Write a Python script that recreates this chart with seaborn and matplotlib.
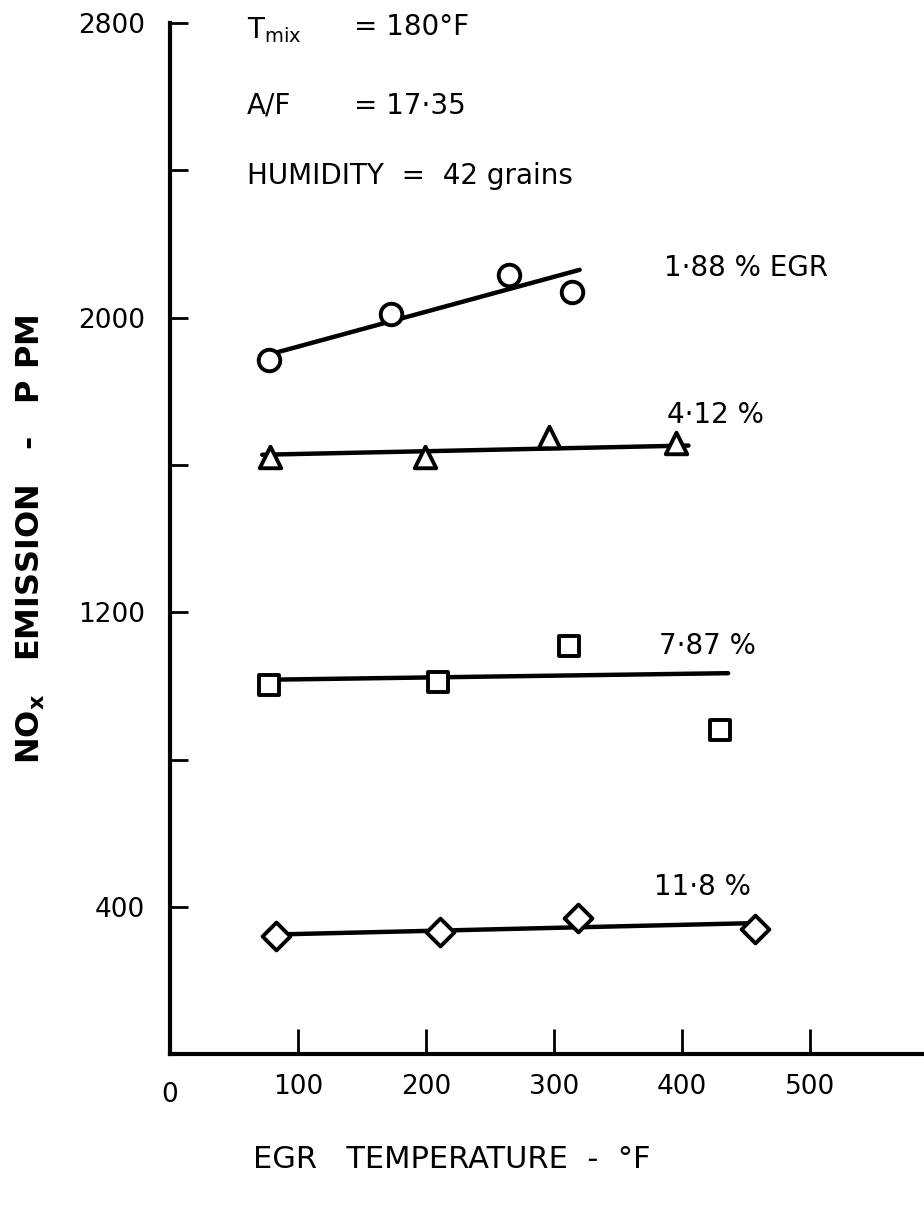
import matplotlib
matplotlib.use("Agg")
import matplotlib.pyplot as plt
import seaborn as sns
import pandas as pd

# ---- data ----
series_names = ["1·88 % EGR", "4·12 %", "7·87 %", "11·8 %"]
markers = ["o", "^", "s", "D"]

egr_t_188 = [77, 173, 265, 314]
nox_188 = [1886, 2011, 2116, 2070]
egr_t_412 = [78, 199, 296, 395]
nox_412 = [1621, 1621, 1675, 1661]
egr_t_787 = [77, 209, 312, 430]
nox_787 = [1002, 1010, 1108, 880]
egr_t_118 = [83, 211, 319, 457]
nox_118 = [321, 332, 370, 340]

# fitted lines (end points as drawn)
fit_t_188 = [72, 320]
fit_nox_188 = [1895, 2130]
fit_t_412 = [72, 405]
fit_nox_412 = [1628, 1653]
fit_t_787 = [72, 436]
fit_nox_787 = [1017, 1035]
fit_t_118 = [75, 462]
fit_nox_118 = [325, 357]

y_major = [400, 1200, 2000, 2800]
y_minor = [800, 1600, 2400]
x_ticks = [100, 200, 300, 400, 500]

# ---- build frames ----
pts = pd.DataFrame({
    "t": egr_t_188 + egr_t_412 + egr_t_787 + egr_t_118,
    "nox": nox_188 + nox_412 + nox_787 + nox_118,
    "series": [series_names[0]] * 4 + [series_names[1]] * 4 + [series_names[2]] * 4 + [series_names[3]] * 4,
})
fits = pd.DataFrame({
    "t": fit_t_188 + fit_t_412 + fit_t_787 + fit_t_118,
    "nox": fit_nox_188 + fit_nox_412 + fit_nox_787 + fit_nox_118,
    "series": [series_names[0]] * 2 + [series_names[1]] * 2 + [series_names[2]] * 2 + [series_names[3]] * 2,
})

sns.set_theme(style="white")
plt.rcParams["font.family"] = ["DejaVu Sans Condensed", "DejaVu Sans"]
plt.rcParams["text.color"] = "black"
plt.rcParams["axes.labelcolor"] = "black"
plt.rcParams["xtick.color"] = "black"
plt.rcParams["ytick.color"] = "black"

fig = plt.figure(figsize=(9.24, 12.12), dpi=100)
ax = fig.add_axes([0.184, 0.130, 0.816, 0.851])

black = {n: "black" for n in series_names}
sns.lineplot(data=fits, x="t", y="nox", hue="series", palette=black,
             linewidth=3.2, legend=False, ax=ax, zorder=2)
msizes = {"o": 240, "^": 240, "s": 200, "D": 200}
for name, m in zip(series_names, markers):
    sub = pts[pts["series"] == name]
    sns.scatterplot(data=sub, x="t", y="nox", marker=m, s=msizes[m],
                    facecolor="white", edgecolor="black", linewidth=2.8,
                    legend=False, ax=ax, zorder=3)

ax.set_xlim(0, 589)
ax.set_ylim(0, 2800)
for s in ["top", "right"]:
    ax.spines[s].set_visible(False)
for s in ["left", "bottom"]:
    ax.spines[s].set_linewidth(3)
    ax.spines[s].set_color("black")

ax.set_yticks(y_major)
ax.set_yticks(y_minor, minor=True)
ax.set_xticks(x_ticks)
ax.tick_params(axis="y", which="both", left=True, direction="in", length=13, width=2,
               labelsize=19, pad=18)
ax.tick_params(axis="x", which="both", bottom=True, direction="in", length=18, width=2,
               labelsize=19, pad=14)
ax.set_yticklabels([str(v) for v in y_major])
ax.set_xticklabels([str(v) for v in x_ticks])
ax.text(0, -0.027, "0", transform=ax.get_xaxis_transform(), ha="center", va="top", fontsize=19)

ax.set_xlabel("EGR   TEMPERATURE  -  °F", fontsize=22)
ax.xaxis.set_label_coords((452 - 170) / 754, -0.088)
ax.set_ylabel("NO$_\\mathregular{x}$   EMISSION   -   P PM", fontsize=23, fontweight="bold")
ax.yaxis.set_label_coords(-(170 - 47) / 754, 0.5)

# condition notes
ax.text(60, 2780, "T$_\\mathregular{mix}$", fontsize=20, va="center", ha="left")
ax.text(144, 2790, "= 180°F", fontsize=20, va="center", ha="left")
ax.text(60, 2575, "A/F", fontsize=20, va="center", ha="left")
ax.text(144, 2575, "= 17·35", fontsize=20, va="center", ha="left")
ax.text(60, 2385, "HUMIDITY  =  42 grains", fontsize=20, va="center", ha="left")

# series labels
ax.text(386, 2135, "1·88 % EGR", fontsize=20, va="center", ha="left")
ax.text(388, 1735, "4·12 %", fontsize=20, va="center", ha="left")
ax.text(382, 1110, "7·87 %", fontsize=20, va="center", ha="left")
ax.text(378, 455, "11·8 %", fontsize=20, va="center", ha="left")

fig.savefig("out.png", dpi=100, facecolor="white")
